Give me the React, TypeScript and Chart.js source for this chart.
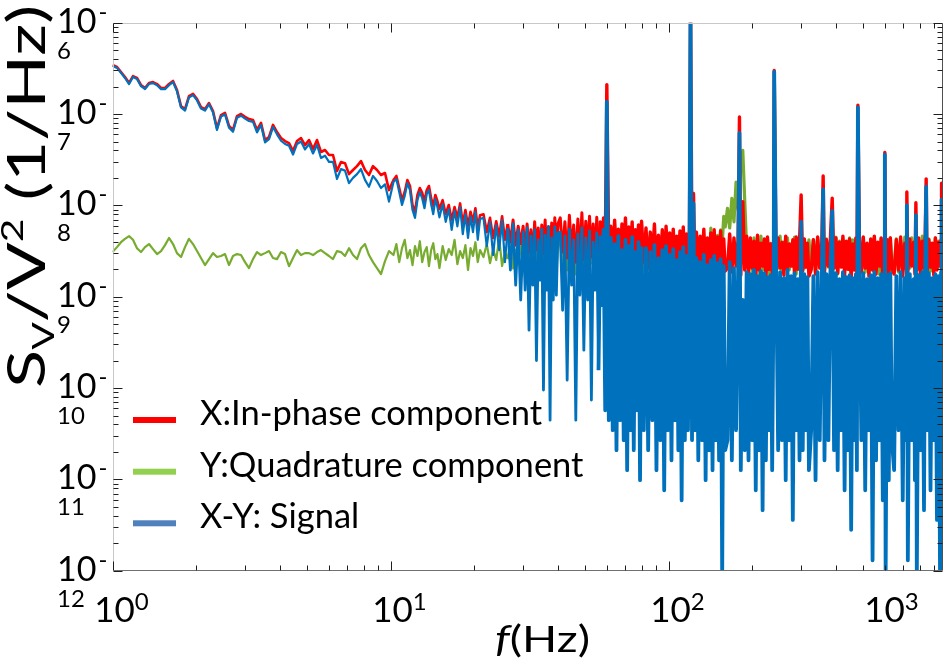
import React, { useEffect, useRef } from "react";
import { Chart, registerables } from "chart.js";

Chart.register(...registerables);

// ---------- data ----------
// 1 Hz .. 10 Hz
const freqLow = [1.0, 1.038, 1.073, 1.109, 1.147, 1.185, 1.225, 1.266, 1.309, 1.353, 1.399, 1.446, 1.495, 1.545, 1.597, 1.651, 1.706, 1.764, 1.823, 1.884, 1.948, 2.014, 2.081, 2.151, 2.224, 2.299, 2.376, 2.456, 2.539, 2.625, 2.713, 2.804, 2.899, 2.997, 3.097, 3.202, 3.31, 3.421, 3.537, 3.656, 3.779, 3.906, 4.038, 4.174, 4.315, 4.46, 4.611, 4.766, 4.926, 5.092, 5.264, 5.441, 5.623, 5.813, 6.008, 6.211, 6.42, 6.636, 6.86, 7.091, 7.33, 7.577, 7.832, 8.095, 8.368, 8.65, 8.941, 9.243, 9.554, 9.876];
const redLow = [3.44e-7, 3.27e-7, 2.88e-7, 2.54e-7, 2.19e-7, 2.6e-7, 2.48e-7, 2.08e-7, 1.93e-7, 2.19e-7, 2.24e-7, 2.13e-7, 1.93e-7, 1.93e-7, 2.13e-7, 2.3e-7, 1.83e-7, 1.22e-7, 1.13e-7, 1.57e-7, 1.66e-7, 1.46e-7, 1.19e-7, 1.13e-7, 1.32e-7, 1.08e-7, 7.0e-8, 9.75e-8, 1.03e-7, 7.4e-8, 6.7e-8, 9.5e-8, 1.0e-7, 9.3e-8, 8.8e-8, 8.6e-8, 6.7e-8, 8.0e-8, 5.2e-8, 5.6e-8, 7.6e-8, 6.35e-8, 5.46e-8, 5.06e-8, 4.81e-8, 3.93e-8, 5.06e-8, 5.46e-8, 4.57e-8, 5.19e-8, 4.14e-8, 5.19e-8, 3.84e-8, 4.04e-8, 3.56e-8, 3.56e-8, 2.38e-8, 2.98e-8, 2.9e-8, 2.2e-8, 2.44e-8, 2.69e-8, 3.05e-8, 2.44e-8, 2.15e-8, 2.69e-8, 2.44e-8, 2.15e-8, 2.26e-8, 1.47e-8];
const blueLow = [3.38e-7, 3.2e-7, 2.82e-7, 2.48e-7, 2.13e-7, 2.54e-7, 2.42e-7, 2.02e-7, 1.88e-7, 2.13e-7, 2.18e-7, 2.07e-7, 1.87e-7, 1.87e-7, 2.07e-7, 2.24e-7, 1.77e-7, 1.18e-7, 1.09e-7, 1.52e-7, 1.61e-7, 1.41e-7, 1.15e-7, 1.09e-7, 1.28e-7, 1.04e-7, 6.7e-8, 9.4e-8, 9.9e-8, 7.1e-8, 6.4e-8, 9.1e-8, 9.6e-8, 8.9e-8, 8.4e-8, 8.2e-8, 6.3e-8, 7.6e-8, 4.9e-8, 5.3e-8, 7.2e-8, 6.0e-8, 5.1e-8, 4.7e-8, 4.5e-8, 3.6e-8, 4.7e-8, 5.0e-8, 4.1e-8, 4.7e-8, 3.7e-8, 4.6e-8, 3.3e-8, 3.5e-8, 3.0e-8, 3.0e-8, 1.95e-8, 2.5e-8, 2.4e-8, 1.75e-8, 2.0e-8, 2.2e-8, 2.5e-8, 1.9e-8, 1.6e-8, 2.1e-8, 1.85e-8, 1.55e-8, 1.7e-8, 1.1e-8];
const greenLow = [3.08e-9, 3.49e-9, 3.95e-9, 4.3e-9, 4.6e-9, 4.2e-9, 3.4e-9, 3.08e-9, 3.49e-9, 3.77e-9, 3.32e-9, 2.93e-9, 3.16e-9, 3.67e-9, 4.4e-9, 3.77e-9, 3.0e-9, 2.72e-9, 3.49e-9, 4.3e-9, 3.77e-9, 3.16e-9, 2.65e-9, 2.22e-9, 2.58e-9, 3.0e-9, 2.72e-9, 2.79e-9, 2.93e-9, 2.22e-9, 2.79e-9, 2.93e-9, 2.86e-9, 2.39e-9, 2.06e-9, 2.58e-9, 3.08e-9, 2.86e-9, 3.0e-9, 3.16e-9, 2.65e-9, 2.58e-9, 3.08e-9, 2.93e-9, 2.16e-9, 2.65e-9, 3.24e-9, 2.86e-9, 3.0e-9, 3.0e-9, 2.86e-9, 3.08e-9, 3.24e-9, 3.0e-9, 2.79e-9, 2.58e-9, 3.16e-9, 3.08e-9, 2.79e-9, 3.4e-9, 2.86e-9, 2.58e-9, 3.4e-9, 3.77e-9, 2.86e-9, 2.39e-9, 2.06e-9, 1.77e-9, 2.45e-9, 3.16e-9];

// 10 Hz .. 30 Hz
const freqMid = [10.25, 10.5, 10.75, 11, 11.25, 11.5, 11.75, 12, 12.25, 12.5, 12.75, 13, 13.25, 13.5, 13.75, 14, 14.25, 14.5, 14.75, 15, 15.4, 15.8, 16.2, 16.6, 17, 17.4, 17.8, 18.2, 18.6, 19, 19.4, 19.8, 20.2, 20.6, 21, 21.6, 22.2, 22.8, 23.4, 24, 24.6, 25.2, 25.8, 26.4, 27, 27.6, 28.2, 28.8, 29.4];
const redMid = [1.89e-8, 2.1e-8, 1.55e-8, 1.14e-8, 1.4e-8, 1.89e-8, 1.63e-8, 1.01e-8, 8.5e-9, 1.3e-8, 1.55e-8, 1.37e-8, 1.11e-8, 1.47e-8, 1.63e-8, 1.2e-8, 9.8e-9, 1.3e-8, 1.11e-8, 9.1e-9, 1.14e-8, 8.0e-9, 1.01e-8, 6.9e-9, 9.6e-9, 7.3e-9, 1.05e-8, 6.25e-9, 8.9e-9, 5.9e-9, 8.5e-9, 6.6e-9, 9.3e-9, 5.65e-9, 7.8e-9, 8.0e-9, 5.1e-9, 7.3e-9, 4.4e-9, 6.7e-9, 4.6e-9, 7.6e-9, 4.2e-9, 6.25e-9, 3.95e-9, 6.9e-9, 3.67e-9, 5.9e-9, 3.77e-9];
const blueMid = [1.8e-8, 1.94e-8, 1.4e-8, 1.01e-8, 1.27e-8, 1.75e-8, 1.47e-8, 8.9e-9, 7.3e-9, 1.14e-8, 1.4e-8, 1.2e-8, 9.3e-9, 1.33e-8, 1.47e-8, 1.03e-8, 8.0e-9, 1.17e-8, 9.6e-9, 7.4e-9, 1.03e-8, 6.6e-9, 9.1e-9, 5.4e-9, 8.7e-9, 5.9e-9, 9.6e-9, 4.85e-9, 8.0e-9, 4.4e-9, 7.6e-9, 5.1e-9, 8.5e-9, 4.2e-9, 7.1e-9, 7.3e-9, 3.58e-9, 6.6e-9, 2.86e-9, 6.1e-9, 3.24e-9, 6.9e-9, 2.39e-9, 5.65e-9, 1.96e-9, 6.25e-9, 1.34e-9, 5.4e-9, 9.2e-10];
const greenMid = [2.86e-9, 3.77e-9, 2.39e-9, 3.4e-9, 4.2e-9, 2.65e-9, 3.24e-9, 2.22e-9, 3.58e-9, 2.79e-9, 4.05e-9, 2.39e-9, 3.08e-9, 3.49e-9, 2.16e-9, 3.24e-9, 3.85e-9, 2.58e-9, 2.93e-9, 2.06e-9, 3.58e-9, 2.52e-9, 3.32e-9, 2.86e-9, 4.2e-9, 2.27e-9, 3.16e-9, 2.65e-9, 3.67e-9, 1.96e-9, 3.4e-9, 2.79e-9, 3.95e-9, 2.39e-9, 3.24e-9, 2.72e-9, 3.77e-9, 2.33e-9, 3.32e-9, 2.52e-9, 4.4e-9, 2.16e-9, 3.08e-9, 2.58e-9, 3.67e-9, 2.06e-9, 3.24e-9, 2.39e-9, 3.49e-9];

// 30 Hz .. 970 Hz (dense noise band with line harmonics)
const freqHigh = [
  30, 30.5, 31, 31.5, 32, 32.5, 33, 33.5, 34, 34.5, 35, 35.5, 36, 36.5, 37, 37.5, 38, 38.5, 39, 39.5, 40,
  40.8, 41.6, 42.4, 43.2, 44, 44.8, 45.6, 46.4, 47.2, 48, 48.8, 49.6, 50.4, 51.2, 52, 52.8, 53.6, 54.4, 55.2, 56, 56.8, 57.6, 58.4, 59.2, 60,
  61, 62, 63, 64, 65, 66, 67, 68, 69, 70, 71, 72, 73, 74, 75, 76, 77, 78, 79, 80,
  81.5, 83, 84.5, 86, 87.5, 89, 90.5, 92, 93.5, 95, 96.5, 98, 99.5, 101, 102.5, 104, 105.5, 107, 108.5, 110, 111.5, 113, 114.5, 116, 117.5, 119,
  120, 121.5, 123, 124.5, 126, 128, 130, 132, 134, 136, 138, 140, 142, 144, 146, 148, 150, 152, 154, 156, 158, 160,
  163, 166, 169, 172, 175, 178, 180, 182, 185, 188, 191, 194, 197, 200, 203, 206, 209, 212, 215, 218, 221, 224, 227, 230, 233, 236, 239, 240,
  244, 248, 252, 256, 260, 264, 268, 272, 276, 280, 284, 288, 292, 296, 300, 304, 308, 312, 316, 320,
  326, 332, 338, 344, 350, 356, 360, 364, 370, 376, 382, 388, 394, 400, 406, 412, 418, 424, 430, 436, 442, 448, 454, 460, 466, 472, 476, 480,
  486, 494, 502, 510, 518, 526, 534, 542, 550, 558, 566, 574, 582, 590, 598, 600, 604, 612, 620, 628, 636,
  648, 660, 672, 684, 696, 708, 716, 720, 726, 738, 750, 762, 770, 776, 782, 794, 806, 818, 830, 838, 845, 852, 864, 876, 888, 900, 912, 924, 936, 948, 956, 960, 964, 972,
];
const redHigh = [
  5.9e-9, 2.79e-9, 6.25e-9, 3.08e-9, 5.4e-9, 2.52e-9, 6.6e-9, 3.24e-9, 5.65e-9, 2.65e-9, 6.1e-9, 2.93e-9, 6.9e-9, 2.39e-9, 5.8e-9, 3.16e-9, 6.4e-9, 2.72e-9, 7.3e-9, 2.86e-9, 6.25e-9,
  7.3e-9, 3.08e-9, 6.6e-9, 2.65e-9, 7.8e-9, 3.24e-9, 6.1e-9, 2.39e-9, 7.1e-9, 2.86e-9, 8.3e-9, 2.52e-9, 6.7e-9, 3.32e-9, 7.6e-9, 2.72e-9, 6.25e-9, 2.27e-9, 7.4e-9, 3.08e-9, 6.6e-9, 2.58e-9, 7.3e-9, 2.79e-9, 2.1e-7,
  2.65e-9, 5.9e-9, 2.39e-9, 6.9e-9, 2.86e-9, 5.5e-9, 2.06e-9, 6.25e-9, 2.58e-9, 7.3e-9, 2.22e-9, 5.8e-9, 2.79e-9, 6.6e-9, 1.96e-9, 5.4e-9, 2.52e-9, 6.1e-9, 2.16e-9, 6.7e-9,
  2.39e-9, 5.65e-9, 2.06e-9, 5.1e-9, 2.65e-9, 6.25e-9, 1.86e-9, 4.7e-9, 2.27e-9, 5.4e-9, 1.96e-9, 5.9e-9, 2.39e-9, 5.0e-9, 1.72e-9, 5.5e-9, 2.16e-9, 4.6e-9, 2.52e-9, 5.25e-9, 1.86e-9, 5.8e-9, 2.06e-9, 4.85e-9, 2.33e-9, 5.4e-9,
  1.5e-6, 2.39e-9, 1.35e-8, 2.06e-9, 5.1e-9, 1.96e-9, 4.6e-9, 2.27e-9, 5.5e-9, 1.68e-9, 4.4e-9, 2.16e-9, 5.0e-9, 1.86e-9, 5.4e-9, 2.06e-9, 4.5e-9, 1.77e-9, 5.25e-9, 2.22e-9, 4.3e-9, 1.91e-9,
  2.06e-9, 4.85e-9, 1.86e-9, 4.4e-9, 2.16e-9, 4.2e-9, 9.3e-8, 1.72e-9, 1.1e-8, 1.96e-9, 4.6e-9, 1.86e-9, 4.4e-9, 2.06e-9, 4.05e-9, 1.68e-9, 4.7e-9, 1.96e-9, 3.85e-9, 2.16e-9, 4.3e-9, 1.6e-9, 4.5e-9, 2.0e-9, 3.77e-9, 1.81e-9, 4.2e-9, 3.0e-7,
  1.86e-9, 4.4e-9, 2.06e-9, 3.95e-9, 1.72e-9, 4.6e-9, 1.96e-9, 3.77e-9, 2.16e-9, 4.2e-9, 1.77e-9, 4.5e-9, 2.0e-9, 4.05e-9, 1.3e-8, 1.91e-9, 4.3e-9, 2.11e-9, 3.85e-9, 1.68e-9,
  1.96e-9, 4.2e-9, 1.77e-9, 4.5e-9, 2.06e-9, 3.85e-9, 2.1e-8, 1.86e-9, 4.2e-9, 2.16e-9, 4.2e-9, 1.2e-8, 2.06e-9, 4.4e-9, 1.81e-9, 3.95e-9, 2.11e-9, 4.6e-9, 1.72e-9, 4.05e-9, 2.0e-9, 4.3e-9, 1.6e-9, 3.77e-9, 1.96e-9, 4.4e-9, 1.86e-9, 1.25e-7,
  4.2e-9, 1.86e-9, 4.5e-9, 2.06e-9, 3.85e-9, 1.68e-9, 4.3e-9, 1.96e-9, 4.6e-9, 1.77e-9, 3.95e-9, 2.16e-9, 4.4e-9, 1.56e-9, 4.05e-9, 3.8e-8, 1.96e-9, 4.2e-9, 1.72e-9, 4.4e-9, 2.06e-9,
  1.77e-9, 4.2e-9, 1.96e-9, 4.5e-9, 1.68e-9, 3.85e-9, 2.06e-9, 1.4e-8, 1.86e-9, 4.3e-9, 2.16e-9, 3.95e-9, 1.77e-9, 1.07e-8, 1.96e-9, 4.4e-9, 1.68e-9, 4.05e-9, 2.06e-9, 4.5e-9, 1.95e-8, 1.86e-9, 4.2e-9, 2.11e-9, 3.85e-9, 1.72e-9, 4.4e-9, 1.96e-9, 3.95e-9, 2.16e-9, 4.2e-9, 1.75e-8, 1.77e-9, 3.77e-9,
];
const blueHigh = [
  5.1e-9, 1.18e-9, 5.65e-9, 4.3e-10, 4.6e-9, 1.34e-9, 5.4e-9, 2.0e-10, 4.2e-9, 1.52e-9, 5.5e-9, 9.5e-11, 4.7e-9, 1.18e-9, 5.9e-9, 4.45e-11, 4.4e-9, 9.2e-10, 5.8e-9, 1.04e-9, 5.0e-9,
  5.1e-9, 7.1e-10, 4.6e-9, 1.22e-10, 5.5e-9, 1.34e-9, 4.2e-9, 4.45e-11, 4.85e-9, 1.04e-9, 5.65e-9, 2.6e-10, 4.4e-9, 9.2e-10, 5.25e-9, 7.4e-11, 3.95e-9, 1.18e-9, 5.0e-9, 1.57e-10, 4.5e-9, 8.1e-10, 5.4e-9, 5.7e-11, 1.36e-7,
  4.45e-11, 4.4e-9, 3.46e-11, 3.77e-9, 2.09e-11, 4.6e-9, 4.45e-11, 3.24e-9, 2.69e-11, 4.2e-9, 1.26e-11, 3.58e-9, 3.46e-11, 4.5e-9, 2.09e-11, 3.08e-9, 5.7e-11, 3.95e-9, 9.8e-12, 3.4e-9,
  3.46e-11, 3.4e-9, 2.09e-11, 3.08e-9, 4.45e-11, 3.67e-9, 1.26e-11, 2.65e-9, 2.69e-11, 3.24e-9, 7.6e-12, 3.58e-9, 3.46e-11, 2.86e-9, 1.62e-11, 3.32e-9, 4.45e-11, 2.52e-9, 2.09e-11, 3.08e-9, 5.9e-12, 3.49e-9, 2.69e-11, 2.79e-9, 3.46e-11, 3.16e-9,
  1.5e-6, 2.69e-11, 1.05e-8, 3.46e-11, 2.65e-9, 1.62e-11, 2.39e-9, 2.69e-11, 2.86e-9, 9.8e-12, 2.22e-9, 2.09e-11, 2.52e-9, 1.26e-11, 2.79e-9, 2.69e-11, 2.33e-9, 1.62e-11, 2.58e-9, 8.0e-13, 2.16e-9, 2.09e-11,
  2.69e-11, 2.39e-9, 1.62e-11, 2.06e-9, 3.46e-11, 1.96e-9, 6.2e-8, 1.26e-11, 9.2e-10, 2.09e-11, 1.86e-9, 1.62e-11, 1.77e-9, 2.69e-11, 1.96e-9, 7.6e-12, 1.68e-9, 2.09e-11, 1.91e-9, 4.6e-12, 1.81e-9, 1.62e-11, 1.64e-9, 3.46e-11, 1.72e-9, 1.26e-11, 1.86e-9, 2.9e-7,
  1.72e-9, 2.09e-11, 1.86e-9, 2.69e-11, 1.6e-9, 9.8e-12, 1.96e-9, 2.69e-11, 1.68e-9, 3.6e-12, 1.81e-9, 3.46e-11, 1.56e-9, 1.62e-11, 6.6e-9, 2.09e-11, 1.77e-9, 3.46e-11, 1.64e-9, 1.26e-11,
  3.46e-11, 1.68e-9, 9.8e-12, 1.86e-9, 2.69e-11, 1.6e-9, 1.5e-8, 1.62e-11, 1.77e-9, 2.69e-11, 1.72e-9, 8.7e-9, 2.09e-11, 1.81e-9, 1.26e-11, 1.56e-9, 3.46e-11, 1.86e-9, 7.6e-12, 1.64e-9, 2.09e-11, 1.72e-9, 2.8e-12, 1.6e-9, 2.69e-11, 1.77e-9, 1.26e-11, 1.18e-7,
  1.64e-9, 2.69e-11, 1.81e-9, 7.6e-12, 1.56e-9, 3.46e-11, 1.72e-9, 1.3e-12, 1.86e-9, 1.62e-11, 1.6e-9, 2.69e-11, 1.77e-9, 5.9e-12, 1.68e-9, 3.6e-8, 8.0e-13, 1.72e-9, 9.8e-12, 1.81e-9, 2.69e-11,
  1.26e-11, 1.68e-9, 3.46e-11, 1.86e-9, 5.9e-12, 1.6e-9, 2.69e-11, 1.0e-8, 1.3e-12, 1.77e-9, 2.69e-11, 1.56e-9, 9.8e-12, 7.8e-9, 8.0e-13, 1.72e-9, 2.09e-11, 1.86e-9, 4.6e-12, 1.64e-9, 1.6e-8, 3.46e-11, 1.81e-9, 7.6e-12, 1.6e-9, 2.69e-11, 1.77e-9, 3.6e-12, 1.68e-9, 8.0e-13, 1.86e-9, 1.15e-8, 1.62e-11, 1.72e-9,
];
const greenHigh = [
  3.58e-9, 2.06e-9, 3.95e-9, 1.86e-9, 3.4e-9, 2.22e-9, 3.77e-9, 1.96e-9, 3.24e-9, 2.39e-9, 4.05e-9, 1.72e-9, 3.49e-9, 2.16e-9, 3.85e-9, 1.96e-9, 3.32e-9, 2.27e-9, 4.2e-9, 2.06e-9, 3.67e-9,
  4.2e-9, 2.16e-9, 4.6e-9, 1.96e-9, 3.85e-9, 2.39e-9, 4.4e-9, 1.77e-9, 3.67e-9, 2.06e-9, 4.7e-9, 2.22e-9, 4.05e-9, 1.86e-9, 4.5e-9, 2.33e-9, 3.77e-9, 1.68e-9, 4.3e-9, 2.11e-9, 3.95e-9, 1.96e-9, 4.6e-9, 2.27e-9, 3.24e-9,
  2.06e-9, 4.4e-9, 1.86e-9, 3.95e-9, 2.22e-9, 4.6e-9, 1.72e-9, 4.2e-9, 2.39e-9, 3.77e-9, 1.96e-9, 4.3e-9, 2.16e-9, 4.7e-9, 1.6e-9, 3.85e-9, 2.27e-9, 4.5e-9, 1.91e-9, 4.05e-9,
  1.96e-9, 4.2e-9, 2.16e-9, 4.6e-9, 1.72e-9, 3.95e-9, 2.39e-9, 4.4e-9, 1.86e-9, 3.77e-9, 2.06e-9, 4.7e-9, 1.64e-9, 4.05e-9, 2.27e-9, 4.3e-9, 1.96e-9, 3.58e-9, 2.33e-9, 4.5e-9, 1.77e-9, 3.85e-9, 2.11e-9, 4.2e-9, 1.91e-9, 4.4e-9,
  3.24e-9, 2.06e-9, 4.2e-9, 1.86e-9, 4.4e-9, 2.16e-9, 3.95e-9, 1.96e-9, 4.6e-9, 2.39e-9, 3.77e-9, 1.77e-9, 5.65e-9, 2.22e-9, 4.2e-9, 2.06e-9, 4.7e-9, 2.39e-9, 5.4e-9, 3.67e-9, 7.6e-9, 5.8e-9,
  9.3e-9, 5.65e-9, 1.19e-8, 6.6e-9, 1.8e-8, 8.9e-9, 1.47e-8, 2.75e-8, 4.0e-8, 1.14e-8, 3.4e-9, 2.06e-9, 4.2e-9, 1.86e-9, 4.4e-9, 2.22e-9, 3.95e-9, 1.72e-9, 4.6e-9, 1.96e-9, 4.05e-9, 2.39e-9, 4.3e-9, 1.68e-9, 3.85e-9, 2.16e-9, 4.2e-9, 3.24e-9,
  4.2e-9, 2.06e-9, 4.6e-9, 1.86e-9, 3.95e-9, 2.27e-9, 4.4e-9, 1.96e-9, 3.77e-9, 2.16e-9, 4.5e-9, 1.77e-9, 4.05e-9, 2.39e-9, 3.24e-9, 4.3e-9, 2.06e-9, 3.85e-9, 2.22e-9, 4.2e-9,
  2.16e-9, 4.2e-9, 1.86e-9, 4.4e-9, 2.27e-9, 3.95e-9, 3.24e-9, 1.96e-9, 4.3e-9, 2.11e-9, 3.85e-9, 3.24e-9, 2.22e-9, 4.5e-9, 1.77e-9, 4.05e-9, 2.39e-9, 4.3e-9, 1.96e-9, 3.85e-9, 2.16e-9, 4.4e-9, 1.86e-9, 4.2e-9, 2.27e-9, 3.95e-9, 2.06e-9, 3.24e-9,
  4.05e-9, 2.06e-9, 4.4e-9, 1.86e-9, 3.77e-9, 2.27e-9, 4.2e-9, 1.96e-9, 4.5e-9, 2.16e-9, 3.85e-9, 1.77e-9, 4.3e-9, 2.39e-9, 3.95e-9, 3.24e-9, 2.06e-9, 4.05e-9, 2.22e-9, 4.4e-9, 1.91e-9,
  2.16e-9, 4.3e-9, 1.86e-9, 4.05e-9, 2.27e-9, 4.5e-9, 1.96e-9, 3.24e-9, 3.95e-9, 2.06e-9, 4.4e-9, 2.22e-9, 3.85e-9, 3.24e-9, 1.96e-9, 4.2e-9, 2.16e-9, 4.6e-9, 1.86e-9, 3.95e-9, 3.24e-9, 2.11e-9, 4.3e-9, 1.91e-9, 3.85e-9, 2.22e-9, 4.4e-9, 2.06e-9, 4.05e-9, 2.33e-9, 3.77e-9, 3.24e-9, 2.16e-9, 3.67e-9,
];

const seriesLabels = ["X:In-phase component", "Y:Quadrature component", "X-Y: Signal"];
const lineColors = ["#FF0000", "#77AC30", "#0072BD"];
const legendColors = ["#FF0000", "#92D050", "#4F81BD"];
const xTickExponents = [0, 1, 2, 3];
const yTickExponents = [-6, -7, -8, -9, -10, -11, -12];

const X_MIN = 1;
const X_MAX = 969;
const Y_MIN = 1e-12;
const Y_MAX = 1e-6;

const FONT = "Lato, 'Open Sans', 'DejaVu Sans', sans-serif";

type Run = { text: string; size: number; dy: number; italic?: boolean };

function fontOf(r: Run) {
  return `${r.italic ? "italic " : ""}${r.size}px ${FONT}`;
}
function runsWidth(ctx: CanvasRenderingContext2D, runs: Run[]) {
  let w = 0;
  for (const r of runs) {
    ctx.font = fontOf(r);
    w += ctx.measureText(r.text).width;
  }
  return w;
}
function drawRuns(ctx: CanvasRenderingContext2D, runs: Run[], x: number, y: number) {
  let cx = x;
  for (const r of runs) {
    ctx.font = fontOf(r);
    ctx.fillText(r.text, cx, y + r.dy);
    cx += ctx.measureText(r.text).width;
  }
}
function logTicks(min: number, max: number) {
  const out: { v: number; major: boolean }[] = [];
  const e0 = Math.floor(Math.log10(min) + 1e-9);
  const e1 = Math.ceil(Math.log10(max) - 1e-9);
  for (let e = e0; e <= e1; e++) {
    for (let m = 1; m <= 9; m++) {
      const v = m * Math.pow(10, e);
      if (v >= min * (1 - 1e-9) && v <= max * (1 + 1e-9)) out.push({ v, major: m === 1 });
    }
  }
  return out;
}

const decorPlugin = {
  id: "decor",
  afterDraw(chart: any) {
    const ctx: CanvasRenderingContext2D = chart.ctx;
    const { left, right, top, bottom } = chart.chartArea;
    const xs = chart.scales.x;
    const ys = chart.scales.y;
    ctx.save();
    const L = Math.round(left) + 0.5;
    const R = Math.round(right) - 0.5;
    const T = Math.round(top) + 0.5;
    const B = Math.round(bottom) - 0.5;
    const seg = (x1: number, y1: number, x2: number, y2: number, c: string) => {
      ctx.beginPath();
      ctx.strokeStyle = c;
      ctx.moveTo(x1, y1);
      ctx.lineTo(x2, y2);
      ctx.stroke();
    };
    ctx.lineWidth = 1;
    seg(L, T, R, T, "#c8c8c8");
    seg(L, T, L, B, "#c8c8c8");
    seg(L, B, R, B, "#707070");
    seg(R, T, R, B, "#505050");

    ctx.strokeStyle = "#1e1e1e";
    ctx.beginPath();
    for (const t of logTicks(X_MIN, X_MAX)) {
      const px = Math.round(xs.getPixelForValue(t.v)) + 0.5;
      const len = t.major ? 9 : 5;
      ctx.moveTo(px, B);
      ctx.lineTo(px, B - len);
      ctx.moveTo(px, T);
      ctx.lineTo(px, T + len);
    }
    for (const t of logTicks(Y_MIN, Y_MAX)) {
      const py = Math.round(ys.getPixelForValue(t.v)) + 0.5;
      const len = t.major ? 9 : 5;
      ctx.moveTo(L, py);
      ctx.lineTo(L + len, py);
      ctx.moveTo(R, py);
      ctx.lineTo(R - len, py);
    }
    ctx.stroke();

    ctx.fillStyle = "#000";
    ctx.textAlign = "left";
    ctx.textBaseline = "alphabetic";

    // x tick labels 10^n
    for (const e of xTickExponents) {
      const px = xs.getPixelForValue(Math.pow(10, e));
      ctx.font = `35px ${FONT}`;
      const w1 = ctx.measureText("10").width;
      ctx.font = `24px ${FONT}`;
      const w2 = ctx.measureText(String(e)).width;
      const w = w1 + w2;
      let cx = px + 9;
      if (cx + w / 2 > right - 24) cx = right - 24 - w / 2;
      const x0 = cx - w / 2;
      ctx.font = `35px ${FONT}`;
      ctx.fillText("10", x0, bottom + 51);
      ctx.font = `24px ${FONT}`;
      ctx.fillText(String(e), x0 + w1, bottom + 39);
    }

    // y tick labels "10-" with the exponent wrapped below
    for (const e of yTickExponents) {
      const py = ys.getPixelForValue(Math.pow(10, e));
      ctx.font = `34px ${FONT}`;
      ctx.fillText("10", 57, py + 10);
      const w1 = ctx.measureText("10").width;
      ctx.font = `24px ${FONT}`;
      ctx.fillText("-", 57 + w1 + 2, py - 3);
      ctx.fillText(String(-e), 57, py + 36);
    }

    // y axis title (stretched along its length)
    const yRuns: Run[] = [
      { text: "S", size: 52, dy: 0 },
      { text: "V", size: 30, dy: 9 },
      { text: "/V", size: 52, dy: 0 },
      { text: "2", size: 30, dy: -22 },
      { text: " (1/Hz)", size: 52, dy: 0 },
    ];
    ctx.save();
    ctx.translate(45, 388);
    ctx.rotate(-Math.PI / 2);
    const wy = runsWidth(ctx, yRuns);
    ctx.scale(383 / wy, 1);
    drawRuns(ctx, yRuns, 0, 0);
    ctx.restore();

    // x axis title
    const xRuns: Run[] = [
      { text: "f", size: 37, dy: 0, italic: true },
      { text: "(Hz)", size: 37, dy: 0 },
    ];
    ctx.save();
    ctx.translate(495, 652);
    const wx = runsWidth(ctx, xRuns);
    ctx.scale(95 / wx, 1);
    drawRuns(ctx, xRuns, 0, 0);
    ctx.restore();

    // legend
    const legY = [420, 471.7, 523.3];
    seriesLabels.forEach((lab, i) => {
      ctx.fillStyle = legendColors[i];
      ctx.fillRect(133, legY[i] - 3, 43, 6);
      ctx.fillStyle = "#000";
      ctx.font = `34.5px ${FONT}`;
      ctx.fillText(lab, 200, legY[i] + 5);
    });
    ctx.restore();
  },
};

function toPoints(f: number[], v: number[]) {
  return f.map((x, i) => ({ x, y: v[i] }));
}

// thicker strokes in the dense noise region so the band reads as solid, as in the original
const bandWidth = (thin: number, mid: number, thick: number) => (c: any) => {
  const f = c.p0.parsed.x;
  if (f >= 56) return thick;
  if (f >= 26) return mid;
  return thin;
};

export default function App() {
  const canvasRef = useRef<HTMLCanvasElement | null>(null);

  useEffect(() => {
    const canvas = canvasRef.current;
    if (!canvas) return;
    const freq = [...freqLow, ...freqMid, ...freqHigh];
    const red = [...redLow, ...redMid, ...redHigh];
    const green = [...greenLow, ...greenMid, ...greenHigh];
    const blue = [...blueLow, ...blueMid, ...blueHigh];

    const chart = new Chart(canvas, {
      type: "line",
      data: {
        datasets: [
          {
            label: seriesLabels[0],
            data: toPoints(freq, red),
            borderColor: lineColors[0],
            borderWidth: 2.6,
            order: 1,
            segment: { borderWidth: bandWidth(2.6, 3.0, 3.4) },
          },
          {
            label: seriesLabels[1],
            data: toPoints(freq, green),
            borderColor: lineColors[1],
            borderWidth: 2.2,
            order: 2,
            segment: { borderWidth: bandWidth(2.2, 2.8, 3.2) },
          },
          {
            label: seriesLabels[2],
            data: toPoints(freq, blue),
            borderColor: lineColors[2],
            borderWidth: 2.2,
            order: 0,
            segment: { borderWidth: bandWidth(2.2, 2.8, 3.8) },
          },
        ],
      },
      options: {
        responsive: false,
        animation: false,
        events: [],
        parsing: false,
        normalized: true,
        layout: { padding: { left: 112.5, top: 22.7, right: 2.3, bottom: 94.3 } },
        elements: {
          point: { radius: 0 },
          line: { tension: 0, borderJoinStyle: "round", fill: false },
        },
        plugins: { legend: { display: false }, tooltip: { enabled: false }, title: { display: false } },
        scales: {
          x: { type: "logarithmic", min: X_MIN, max: X_MAX, display: false },
          y: { type: "logarithmic", min: Y_MIN, max: Y_MAX, display: false },
        },
      } as any,
      plugins: [decorPlugin],
    });
    return () => chart.destroy();
  }, []);

  return (
    <div style={{ position: "fixed", left: 0, top: 0, width: 945, height: 665, background: "#fff" }}>
      <canvas ref={canvasRef} width={945} height={665} style={{ display: "block", width: 945, height: 665 }} />
    </div>
  );
}
